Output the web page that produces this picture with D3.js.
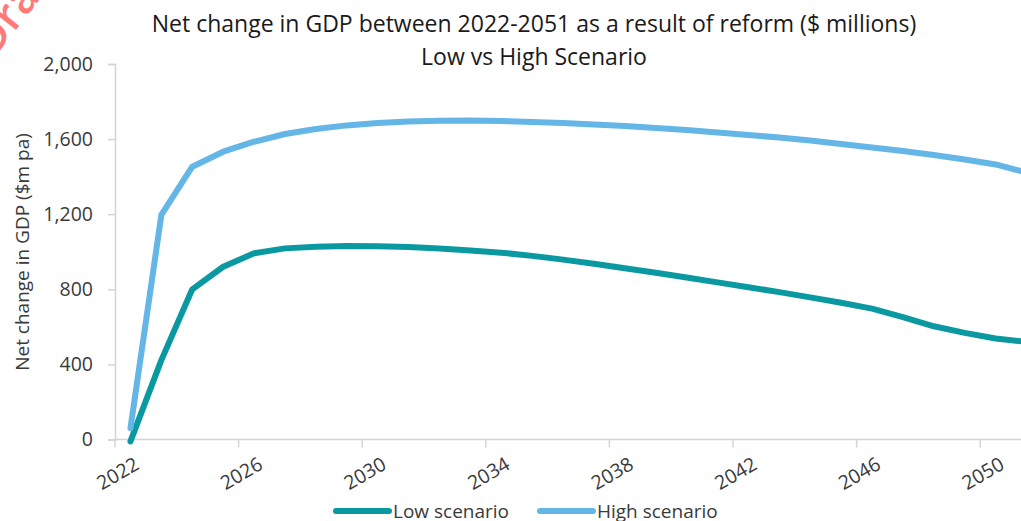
<!DOCTYPE html>
<html>
<head>
<meta charset="utf-8">
<script src="https://cdn.jsdelivr.net/npm/d3@7"></script>
<style>
  html, body { margin: 0; padding: 0; background: #fff; }
  svg { display: block; font-family: "Open Sans", "Noto Sans", sans-serif; }
</style>
</head>
<body>
<svg id="chart" width="1021" height="521"></svg>
<script>
const years = [2022, 2023, 2024, 2025, 2026, 2027, 2028, 2029, 2030, 2031,
               2032, 2033, 2034, 2035, 2036, 2037, 2038, 2039, 2040, 2041,
               2042, 2043, 2044, 2045, 2046, 2047, 2048, 2049, 2050, 2051];
const lowScenario = [-10, 423, 800, 920, 992, 1018, 1027, 1031, 1029, 1025,
                     1017, 1007, 995, 978, 958, 936, 912, 888, 863, 837,
                     811, 785, 757, 728, 697, 652, 603, 568, 538, 520];
const highScenario = [60, 1196, 1453, 1533, 1586, 1627, 1654, 1673, 1686, 1694,
                      1698, 1699, 1696, 1691, 1686, 1678, 1670, 1659, 1648, 1635,
                      1622, 1608, 1592, 1574, 1555, 1537, 1515, 1491, 1465, 1422];
const xTickYears = [2022, 2026, 2030, 2034, 2038, 2042, 2046, 2050];
const yTicks = [0, 400, 800, 1200, 1600, 2000];
const seriesNames = ["Low scenario", "High scenario"];
const titleLines = ["Net change in GDP between 2022-2051 as a result of reform ($ millions)",
                    "Low vs High Scenario"];
const yAxisTitle = "Net change in GDP ($m pa)";

const colors = { low: "#0A99A1", high: "#63B6E6" };
const axisColor = "#d4d4d4";
const textColor = "#3a3a3a";

const svg = d3.select("#chart");

const plotLeft = 115, bandW = 30.9;
const x = d3.scaleBand().domain(years).range([plotLeft, plotLeft + years.length * bandW]).padding(0);
const y = d3.scaleLinear().domain([0, 2000]).range([439.5, 64]);
const cx = d => x(d) + x.bandwidth() / 2;

// watermark fragment (top-left, mostly off-canvas)
svg.append("text")
  .attr("transform", "translate(-6,58) rotate(-52)")
  .attr("font-size", 44).attr("font-weight", 600)
  .attr("fill", "#ff6b6b").attr("opacity", 0.9)
  .text("Draft");

// title
svg.append("g").selectAll("text").data(titleLines).join("text")
  .attr("x", 534).attr("y", (d, i) => 32 + i * 33)
  .attr("text-anchor", "middle")
  .attr("font-size", 23).attr("fill", "#1a1a1a")
  .text(d => d);

// y axis
const yAxis = d3.axisLeft(y).tickValues(yTicks).tickFormat(d3.format(",")).tickSize(7).tickPadding(15);
const gy = svg.append("g").attr("transform", `translate(${plotLeft},0)`).call(yAxis);
gy.select(".domain").attr("stroke", axisColor).attr("stroke-width", 1.5);
gy.selectAll(".tick line").attr("stroke", axisColor).attr("stroke-width", 1.5);
gy.selectAll(".tick text").attr("font-size", 19.5).attr("fill", textColor)
  .attr("font-family", "\"Open Sans\", sans-serif");

// y axis title
svg.append("text")
  .attr("transform", `translate(29,252) rotate(-90)`)
  .attr("text-anchor", "middle")
  .attr("font-size", 19).attr("fill", textColor)
  .text(yAxisTitle);

// x axis baseline
const x0 = y(0);
svg.append("line")
  .attr("x1", plotLeft).attr("x2", x.range()[1])
  .attr("y1", x0).attr("y2", x0)
  .attr("stroke", axisColor).attr("stroke-width", 1.5);
// tick marks at category boundaries
svg.append("g").selectAll("line").data(xTickYears).join("line")
  .attr("x1", d => x(d)).attr("x2", d => x(d))
  .attr("y1", x0).attr("y2", x0 + 8)
  .attr("stroke", axisColor).attr("stroke-width", 1.5);
// tick labels centered in categories, rotated
svg.append("g").selectAll("text").data(xTickYears).join("text")
  .attr("transform", d => `translate(${cx(d) + 3},456) rotate(-30)`)
  .attr("text-anchor", "end").attr("dy", "0.72em")
  .attr("font-size", 19.5).attr("fill", textColor)
  .text(d => d);

// lines
const line = d3.line()
  .x((d, i) => cx(years[i]))
  .y(d => y(d))
  .curve(d3.curveLinear);

svg.append("path").datum(lowScenario)
  .attr("d", line).attr("fill", "none")
  .attr("stroke", colors.low).attr("stroke-width", 6)
  .attr("stroke-linejoin", "round").attr("stroke-linecap", "round");
svg.append("path").datum(highScenario)
  .attr("d", line).attr("fill", "none")
  .attr("stroke", colors.high).attr("stroke-width", 6)
  .attr("stroke-linejoin", "round").attr("stroke-linecap", "round");

// legend
const legendItems = [
  { name: seriesNames[0], color: colors.low, x: 336 },
  { name: seriesNames[1], color: colors.high, x: 540 }
];
const lg = svg.append("g").selectAll("g").data(legendItems).join("g")
  .attr("transform", d => `translate(${d.x},511)`);
lg.append("line").attr("x1", 0).attr("x2", 53).attr("y1", 0).attr("y2", 0)
  .attr("stroke", d => d.color).attr("stroke-width", 6).attr("stroke-linecap", "round");
lg.append("text").attr("x", 57).attr("y", 0).attr("dy", "0.35em")
  .attr("font-size", 19).attr("fill", textColor)
  .text(d => d.name);
</script>
</body>
</html>
